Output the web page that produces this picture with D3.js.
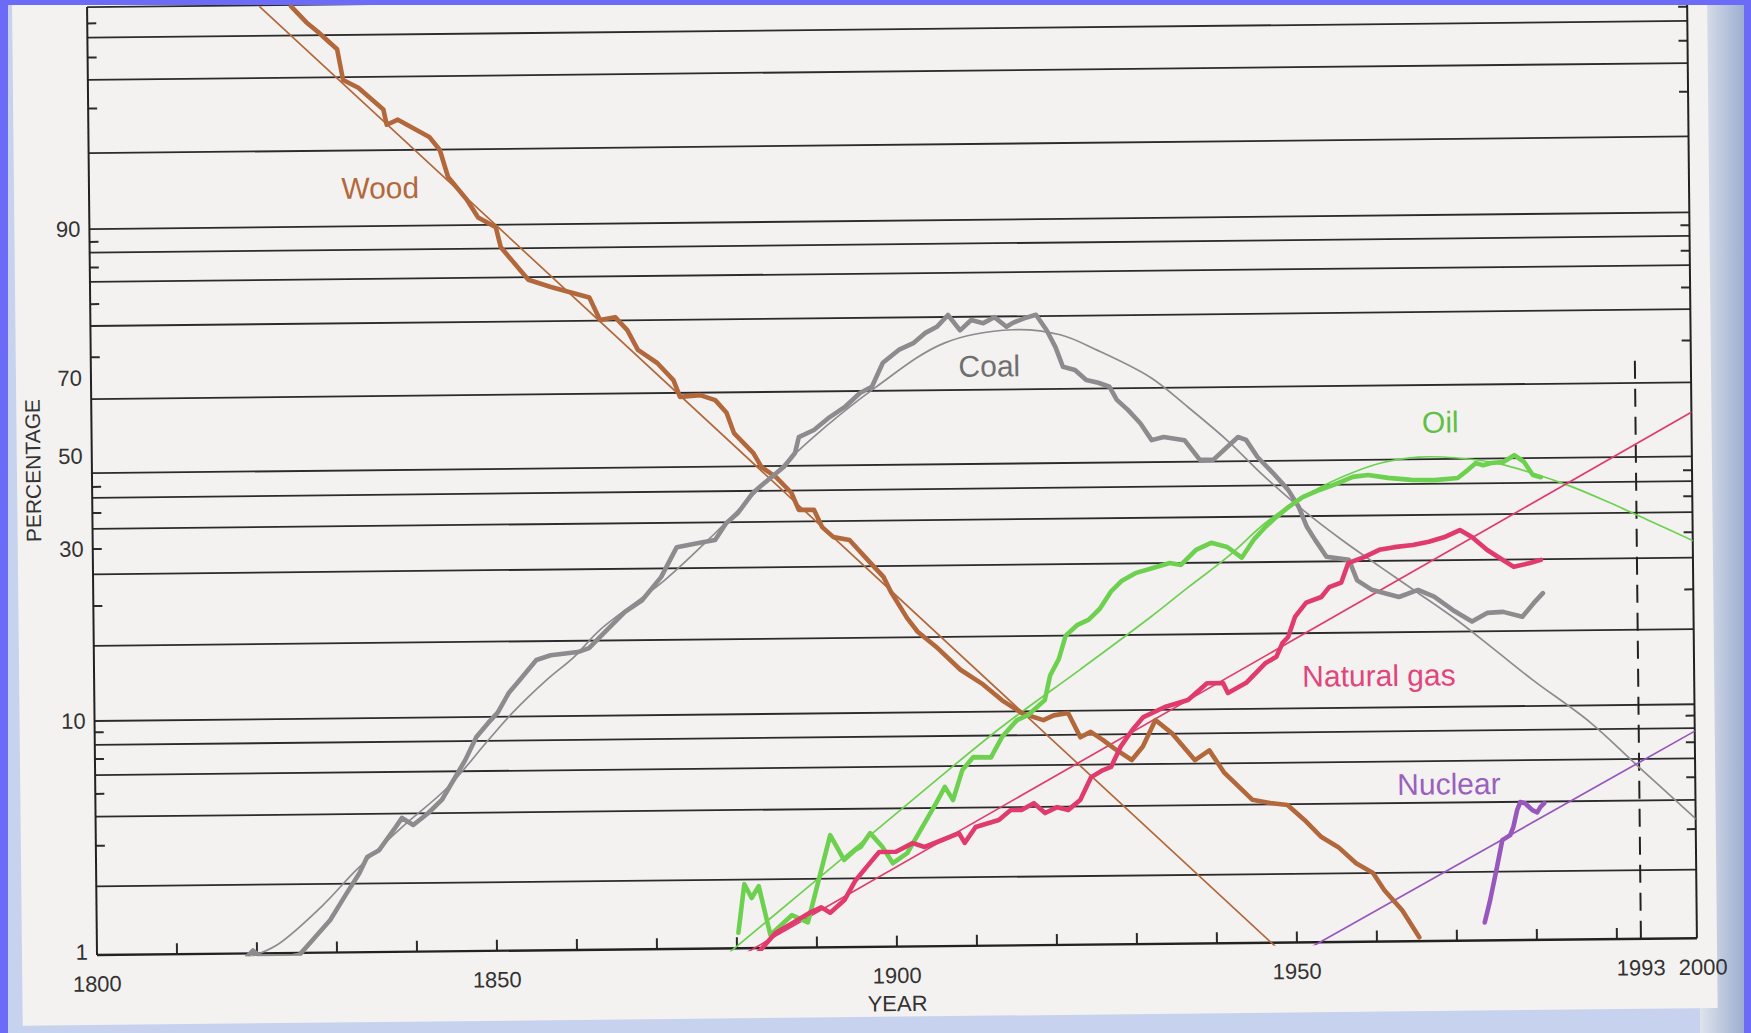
<!DOCTYPE html>
<html>
<head>
<meta charset="utf-8">
<script src="https://cdn.jsdelivr.net/npm/d3@7"></script>
<style>
  html, body { margin: 0; padding: 0; background: #6c6bf8; }
  svg { display: block; }
</style>
</head>
<body>
<svg id="chart" width="1751" height="1033"></svg>
<script>
// Market share of primary energy sources (percent), logistic-substitution view.
// Each series is a list of [year, percent share].

const wood = [[1825.5,98.51],[1827.4,98.28],[1828.8,98.13],[1831.2,97.81],[1831.9,97.13],[1833.8,96.92],[1836.9,96.27],[1837.3,95.74],[1838.7,95.92],[1842.6,95.25],[1843.9,94.68],[1844.9,93.3],[1847.2,91.9],[1848.6,90.6],[1850.8,89.8],[1851.4,88.0],[1854.8,84.5],[1857.6,83.6],[1862.4,82.2],[1863.7,79.0],[1865.6,79.4],[1867.1,77.4],[1868.4,74.1],[1870.8,71.7],[1872.8,68.1],[1873.6,64.0],[1876.1,64.4],[1878.0,63.1],[1879.4,59.8],[1880.3,54.4],[1882.7,49.1],[1883.7,45.9],[1885.5,43.6],[1887.4,40.1],[1888.3,36.4],[1890.2,36.4],[1891.2,32.8],[1892.6,30.8],[1894.6,30.2],[1896.9,26.9],[1898.8,24.4],[1899.7,22.3],[1901.7,18.9],[1903.0,17.3],[1905.5,15.5],[1908.3,13.4],[1911.1,12.1],[1913.5,10.8],[1916.0,9.8],[1918.6,9.2],[1919.9,9.6],[1921.7,9.8],[1923.2,7.8],[1924.5,8.2],[1926.0,7.6],[1927.4,7.0],[1929.6,6.25],[1931.0,7.1],[1932.6,9.1],[1934.7,8.0],[1937.5,6.2],[1939.3,6.8],[1941.1,5.5],[1944.6,4.2],[1946.8,4.06],[1949.0,3.97],[1951.1,3.42],[1953.2,2.88],[1955.3,2.6],[1957.5,2.21],[1959.6,2.0],[1961.0,1.68],[1963.2,1.37],[1965.3,1.04]];

const coal = [[1818.8,0.97],[1819.5,1.03],[1820.4,0.97],[1824.5,0.97],[1825.3,0.98],[1827.0,1.14],[1829.2,1.39],[1831.3,1.82],[1832.9,2.22],[1833.9,2.61],[1835.4,2.79],[1837.5,3.5],[1838.3,3.83],[1839.7,3.57],[1841.6,4.01],[1843.3,4.55],[1844.8,5.52],[1846.3,6.69],[1847.7,8.31],[1849.2,9.46],[1850.4,10.3],[1851.8,11.8],[1853.2,12.9],[1855.3,14.75],[1857.1,15.2],[1860.5,15.5],[1861.9,15.9],[1863.3,17.1],[1866.4,20.0],[1868.6,21.5],[1871.0,24.7],[1873.0,29.3],[1875.9,30.0],[1877.8,30.5],[1879.2,33.8],[1880.7,35.9],[1882.6,40.2],[1884.5,43.0],[1886.5,45.9],[1887.9,49.0],[1888.4,53.1],[1890.3,55.0],[1892.3,58.4],[1894.2,61.0],[1896.1,64.5],[1897.6,66.0],[1899.0,71.3],[1901.0,73.6],[1902.9,74.8],[1904.3,76.4],[1905.8,77.4],[1907.2,79.2],[1908.7,76.8],[1910.1,78.4],[1911.6,77.9],[1913.0,78.8],[1914.5,77.3],[1915.3,77.9],[1916.8,78.6],[1918.2,79.1],[1919.5,76.7],[1920.6,73.8],[1921.5,70.2],[1923.0,69.5],[1924.4,67.1],[1925.9,66.4],[1927.3,65.4],[1928.2,62.1],[1929.6,59.4],[1931.1,55.9],[1932.5,51.3],[1934.0,52.1],[1936.6,51.2],[1938.5,46.5],[1940.2,46.5],[1943.3,51.9],[1944.3,51.1],[1945.7,47.0],[1947.6,43.4],[1949.5,39.6],[1950.8,35.9],[1951.8,31.8],[1952.8,29.4],[1954.2,26.7],[1957.0,26.2],[1958.0,23.2],[1959.8,21.9],[1963.2,20.9],[1965.6,21.8],[1967.6,20.9],[1969.9,19.2],[1972.3,17.8],[1974.2,18.8],[1976.2,18.9],[1978.6,18.3],[1980.0,19.9],[1981.2,21.2]];

const oil = [[1880.2,1.17],[1881.0,1.91],[1881.9,1.66],[1882.8,1.87],[1884.2,1.14],[1886.9,1.39],[1888.9,1.29],[1891.8,3.09],[1893.5,2.41],[1894.9,2.66],[1895.6,2.74],[1896.8,3.14],[1898.3,2.74],[1899.6,2.32],[1901.4,2.56],[1902.9,3.13],[1905.1,4.2],[1906.2,4.91],[1907.2,4.31],[1908.4,5.77],[1909.8,6.53],[1912.0,6.5],[1913.4,7.88],[1915.3,9.22],[1916.7,9.66],[1918.8,10.8],[1919.5,12.8],[1920.6,14.3],[1921.5,16.7],[1923.0,17.9],[1924.4,18.5],[1925.8,19.8],[1927.2,22.0],[1928.6,23.5],[1930.4,24.6],[1932.8,25.4],[1934.6,26.0],[1936.0,25.7],[1937.9,28.0],[1939.8,29.1],[1941.8,28.4],[1943.6,26.7],[1945.1,29.5],[1946.6,31.9],[1948.0,33.9],[1949.5,35.9],[1951.3,38.0],[1953.4,39.5],[1955.2,40.6],[1957.6,42.3],[1959.5,42.7],[1962.0,42.0],[1964.9,41.5],[1967.8,41.4],[1970.7,41.8],[1972.0,43.6],[1973.0,45.1],[1973.9,44.6],[1974.9,45.1],[1976.4,45.3],[1977.8,46.8],[1979.0,45.3],[1980.1,42.3],[1981.1,41.8]];

const gas = [[1882.6,0.95],[1884.8,1.16],[1886.9,1.28],[1889.1,1.42],[1890.6,1.5],[1891.7,1.42],[1893.5,1.61],[1894.9,1.96],[1896.4,2.26],[1897.9,2.6],[1900.0,2.6],[1902.1,2.83],[1903.6,2.72],[1905.8,2.91],[1907.9,3.11],[1908.6,2.82],[1910.0,3.3],[1912.9,3.53],[1914.4,3.89],[1915.8,3.89],[1917.3,4.15],[1918.7,3.76],[1920.2,3.98],[1921.6,3.87],[1923.1,4.26],[1924.5,5.32],[1926.0,5.69],[1927.0,5.86],[1928.2,7.09],[1929.7,8.31],[1931.1,9.37],[1933.8,10.2],[1936.7,10.7],[1939.1,12.0],[1941.1,12.0],[1941.7,11.2],[1944.0,12.0],[1946.4,13.7],[1947.8,14.3],[1948.6,15.7],[1949.3,16.3],[1950.2,18.6],[1951.6,20.3],[1953.5,21.0],[1954.5,22.3],[1956.0,22.9],[1956.9,25.7],[1958.9,26.6],[1960.8,27.7],[1962.7,28.1],[1965.0,28.4],[1967.0,28.9],[1968.9,29.6],[1970.9,30.9],[1972.4,29.6],[1974.3,27.5],[1976.3,25.9],[1977.6,24.9],[1979.5,25.4],[1981.0,25.9]];

const nuclear = [[1973.5,1.2],[1974.2,1.5],[1975.1,2.09],[1975.8,2.74],[1976.8,2.88],[1977.2,3.12],[1977.7,3.69],[1978.1,3.99],[1978.7,3.94],[1979.6,3.68],[1980.2,3.6],[1980.6,3.79],[1981.1,3.94]];

// Fitted substitution trajectories
const woodFit = [[1821.6,98.51],[1947.75,0.93]];
const coalFit = [[1818.5,0.95],[1822.4,1.08],[1828.1,1.59],[1832.5,2.29],[1838.3,3.5],[1844.1,5.16],[1849.2,8.06],[1852.3,10.3],[1856.6,12.9],[1860.0,15.0],[1863.3,17.9],[1871.5,24.3],[1877.8,31.8],[1884.1,42.3],[1889.8,52.3],[1898.1,65.9],[1906.7,74.7],[1915.3,76.8],[1921.2,75.9],[1925.8,73.2],[1932.4,67.6],[1937.1,60.0],[1941.9,51.1],[1946.6,42.5],[1951.3,35.3],[1956.2,29.3],[1960.9,25.1],[1965.6,21.4],[1970.4,18.0],[1975.2,14.7],[1979.8,12.0],[1986.9,8.56],[1992.7,5.66],[2000.2,3.28]];
const oilFit = [[1878.25,0.91],[1888.0,1.73],[1900.6,3.93],[1913.2,8.58],[1923.25,13.3],[1932.1,18.7],[1936.9,22.5],[1941.8,26.8],[1946.6,32.7],[1951.3,38.0],[1956.25,42.3],[1961.0,45.3],[1965.8,46.6],[1970.7,46.3],[1975.4,45.1],[1980.1,42.7],[1985.0,39.6],[1989.7,36.1],[1994.4,32.5],[2000.4,28.4]];
const gasFit = [[1880.1,0.91],[2000.1,57.4]];
const nuclearFit = [[1951.25,0.93],[2000.0,7.78]];

// Axis values
const yLabelValues = [1, 10, 30, 50, 70, 90];
const gridValues = [2, 4, 6, 8, 10, 16.7, 26, 34, 40.6, 46.1, 65, 78.9, 84.8, 87.9, 90, 94.7, 97.2, 98.07];
const minorTickValues = [3, 5, 7, 9, 21.5, 30, 37.3, 43, 73.8, 82, 86.4, 88.9, 96.4, 97.7, 98.3];
const xLabelYears = [1800, 1850, 1900, 1950, 1993, 2000];
const xTickYears = d3.range(1810, 2000, 10);
const forecastYear = 1993;
const forecastTop = 71;
const yearDomain = [1800, 2000];
const shareTop = 98.53;

(function draw() {
  const svg = d3.select("#chart");
  const pL = 97, pR = 1697, pB = 955, pT = 7;

  const logit = p => Math.log10(p / (100 - p));
  const x = d3.scaleLinear().domain(yearDomain).range([pL, pR]);
  const yLogit = d3.scaleLinear()
    .domain([1, 10, 30, 50, 70, 90, shareTop].map(logit))
    .range([pB, 721, 549, 456, 378, 229, pT]);
  const y = p => yLogit(logit(p));

  const font = "'Liberation Sans', Arial, Helvetica, sans-serif";

  // page background and mat
  const defs = svg.append("defs");
  const edge = defs.append("linearGradient").attr("id", "edgeGrad").attr("x1", 0).attr("x2", 1);
  edge.append("stop").attr("offset", 0).attr("stop-color", "#dfe3ec");
  edge.append("stop").attr("offset", 1).attr("stop-color", "#9daed0");
  svg.append("rect").attr("x", 0).attr("y", 0).attr("width", 1751).attr("height", 1033).attr("fill", "#6c6bf8");
  svg.append("rect").attr("x", 8).attr("y", 5).attr("width", 1736).attr("height", 1028).attr("fill", "#c7d2ee");
  svg.append("rect").attr("x", 1700).attr("y", 5).attr("width", 44).attr("height", 1028).attr("fill", "url(#edgeGrad)");

  defs.append("clipPath").attr("id", "plotClip")
    .append("rect").attr("x", pL).attr("y", pT).attr("width", pR - pL).attr("height", pB - pT + 3);

  // whole sheet sits slightly rotated
  const g = svg.append("g").attr("transform", `rotate(-0.6, ${pL}, ${pB})`);

  g.append("rect").attr("x", 22).attr("y", -30).attr("width", 1695).attr("height", 1055).attr("fill", "#f3f2f1");

  // grid lines
  g.append("g").selectAll("line").data(gridValues.concat([shareTop])).join("line")
    .attr("x1", pL).attr("x2", pR)
    .attr("y1", d => y(d)).attr("y2", d => y(d))
    .attr("stroke", "#2b2b2b").attr("stroke-width", 1.8);

  // minor ticks on both vertical axes and along the year axis
  const tk = g.append("g").attr("stroke", "#2b2b2b").attr("stroke-width", 2);
  tk.selectAll(".tl").data(minorTickValues).join("line").attr("class", "tl")
    .attr("x1", pL).attr("x2", pL + 9).attr("y1", d => y(d)).attr("y2", d => y(d));
  tk.selectAll(".tr").data(minorTickValues).join("line").attr("class", "tr")
    .attr("x1", pR - 9).attr("x2", pR).attr("y1", d => y(d)).attr("y2", d => y(d));
  tk.selectAll(".tx").data(xTickYears).join("line").attr("class", "tx")
    .attr("x1", d => x(d)).attr("x2", d => x(d)).attr("y1", pB).attr("y2", pB - 11);

  // frame
  const frame = g.append("g").attr("stroke", "#222").attr("fill", "none");
  frame.append("line").attr("x1", pL).attr("x2", pL).attr("y1", pT).attr("y2", pB).attr("stroke-width", 2);
  frame.append("line").attr("x1", pR).attr("x2", pR).attr("y1", pT).attr("y2", pB).attr("stroke-width", 2);
  frame.append("line").attr("x1", pL).attr("x2", pR).attr("y1", pB).attr("y2", pB).attr("stroke-width", 2.4);

  // forecast marker
  g.append("line")
    .attr("x1", x(forecastYear)).attr("x2", x(forecastYear))
    .attr("y1", y(1)).attr("y2", y(forecastTop))
    .attr("stroke", "#222").attr("stroke-width", 2).attr("stroke-dasharray", "18 10");

  // axis labels
  const txt = g.append("g").attr("font-family", font).attr("fill", "#333");
  txt.selectAll(".yl").data(yLabelValues).join("text").attr("class", "yl")
    .attr("x", pL - 9).attr("y", d => d === 1 ? y(d) - 3 : y(d))
    .attr("text-anchor", "end").attr("dominant-baseline", "central")
    .attr("font-size", 22).text(d => d);
  txt.selectAll(".xl").data(xLabelYears).join("text").attr("class", "xl")
    .attr("x", d => x(d) + (d === 2000 ? 6 : 0)).attr("y", pB + 29)
    .attr("text-anchor", "middle").attr("dominant-baseline", "central")
    .attr("font-size", 22).text(d => d);
  txt.append("text").attr("x", x(1900)).attr("y", pB + 57)
    .attr("text-anchor", "middle").attr("dominant-baseline", "central")
    .attr("font-size", 22).text("YEAR");
  txt.append("text").attr("transform", `translate(38, 470) rotate(-90)`)
    .attr("text-anchor", "middle").attr("dominant-baseline", "central")
    .attr("font-size", 21).text("PERCENTAGE");

  // series
  const line = d3.line().x(d => x(d[0])).y(d => y(d[1]));
  const smooth = d3.line().x(d => x(d[0])).y(d => y(d[1])).curve(d3.curveCatmullRom.alpha(0.5));

  const plot = g.append("g").attr("clip-path", "url(#plotClip)")
    .attr("fill", "none").attr("stroke-linejoin", "round").attr("stroke-linecap", "round");

  const series = [
    { fit: woodFit, data: wood, color: "#b3683c", smooth: false },
    { fit: coalFit, data: coal, color: "#8d8b8d", smooth: true },
    { fit: oilFit, data: oil, color: "#6dd14f", smooth: true },
    { fit: gasFit, data: gas, color: "#e13a6c", smooth: false },
    { fit: nuclearFit, data: nuclear, color: "#9857bd", smooth: false }
  ];

  series.forEach(s => {
    plot.append("path").attr("d", (s.smooth ? smooth : line)(s.fit))
      .attr("stroke", s.color).attr("stroke-width", 1.7);
  });
  series.forEach(s => {
    plot.append("path").attr("d", line(s.data))
      .attr("stroke", s.color).attr("stroke-width", 4.6);
  });

  // series names
  const names = [
    { text: "Wood", at: [1836.4, 92.7], color: "#b3683c" },
    { text: "Coal", at: [1912.3, 70.5], color: "#6f6f6f" },
    { text: "Oil", at: [1968.6, 55.4], color: "#5fc043" },
    { text: "Natural gas", at: [1960.6, 12.5], color: "#e0457b" },
    { text: "Nuclear", at: [1969.2, 4.8], color: "#9a60be" }
  ];
  g.append("g").attr("font-family", font).attr("font-size", 30)
    .selectAll("text").data(names).join("text")
    .attr("x", d => x(d.at[0])).attr("y", d => y(d.at[1]))
    .attr("text-anchor", "middle").attr("dominant-baseline", "central")
    .attr("fill", d => d.color).text(d => d.text);

  // blue frame band along the top edge
  svg.append("rect").attr("x", 0).attr("y", 0).attr("width", 1751).attr("height", 5).attr("fill", "#6c6bf8");
})();
</script>
</body>
</html>
